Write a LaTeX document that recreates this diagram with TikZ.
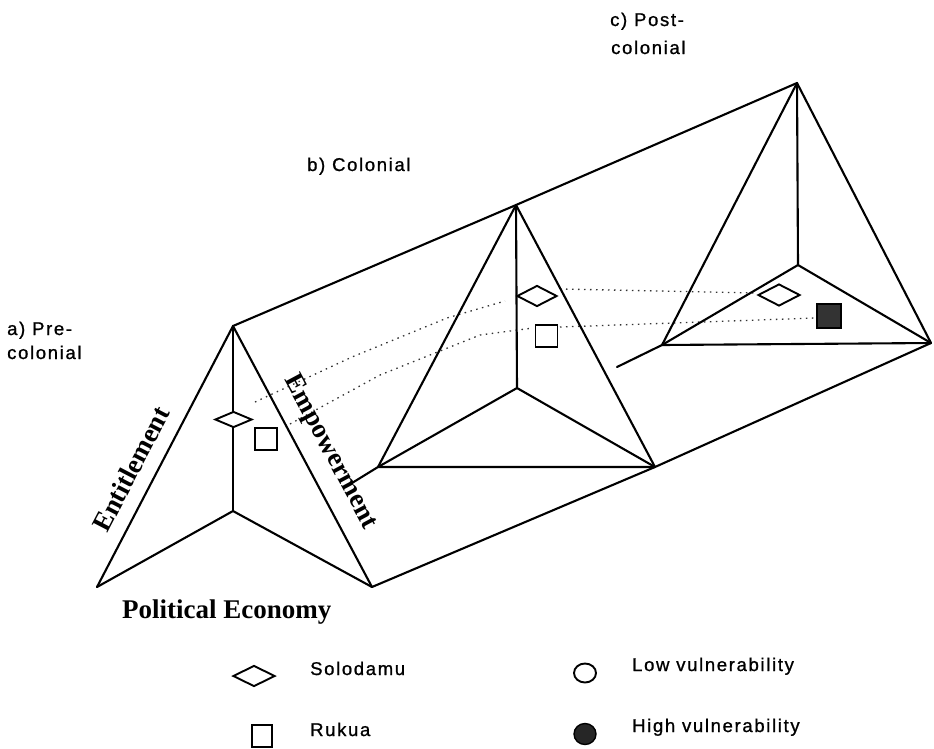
\documentclass[tikz,border=0pt]{standalone}
\usepackage{fontspec}
\setmainfont{Liberation Serif}
\newfontfamily\labfont{Liberation Sans}[LetterSpace=9,FakeBold=1]
\usetikzlibrary{shapes.geometric}
\begin{document}
\begin{tikzpicture}[x=1pt,y=-1pt,
  edge/.style={line width=2.1pt, line join=round, line cap=round},
  dots/.style={line width=1.3pt, dash pattern=on 1.5pt off 4.5pt, black!80},
  lab/.style={font=\labfont\fontsize{18.5}{22}\selectfont, inner sep=0pt, anchor=base west},
  ser/.style={font=\bfseries\fontsize{27}{30}\selectfont, inner sep=0pt},
  dmd/.style={draw, line width=1.9pt, fill=white, shape=diamond, inner sep=0pt},
  sq/.style={draw, line width=1.9pt, fill=white, inner sep=0pt, minimum size=22pt},
]
\useasboundingbox (0,0) rectangle (934,748);

% vertices
\coordinate (PA) at (233,326); \coordinate (LA) at (97,587);
\coordinate (RA) at (372,587); \coordinate (MA) at (233,511);
\coordinate (PB) at (516,205); \coordinate (LB) at (378,467);
\coordinate (RB) at (655,467); \coordinate (MB) at (517,388);
\coordinate (PC) at (797,83);  \coordinate (LC) at (662,345);
\coordinate (RC) at (931,343); \coordinate (MC) at (798,265);
\coordinate (SB) at (352,483); \coordinate (SC) at (617,367);

% dotted links
\coordinate (u1) at (255,402); \coordinate (u2) at (352,357);
\coordinate (u3) at (447,318); \coordinate (u4) at (505,301);
\coordinate (w1) at (290,424); \coordinate (w2) at (380,375);
\coordinate (w3) at (480,335); \coordinate (w4) at (533,328);
\coordinate (u5) at (560,289); \coordinate (u6) at (757,293);
\coordinate (w5) at (560,327); \coordinate (w6) at (815,318);
\draw[dots] (u1) -- (u2) -- (u3) -- (u4);
\draw[dots] (w1) -- (w2) -- (w3) -- (w4);
\draw[dots] (u5) -- (u6);
\draw[dots] (w5) -- (w6);

% long edges
\draw[edge] (PA) -- (PB) -- (PC);
\draw[edge] (RA) -- (RB) -- (RC);
\draw[edge] (LB) -- (SB);
\draw[edge] (LC) -- (SC);

% pyramid a
\draw[edge] (LA) -- (PA) -- (RA);
\draw[edge] (PA) -- (MA);
\draw[edge] (LA) -- (MA) -- (RA);
% pyramid b
\draw[edge] (LB) -- (PB) -- (RB) -- cycle;
\draw[edge] (PB) -- (MB);
\draw[edge] (LB) -- (MB) -- (RB);
% pyramid c
\draw[edge] (LC) -- (PC) -- (RC) -- cycle;
\draw[edge] (PC) -- (MC);
\draw[edge] (LC) -- (MC) -- (RC);

% markers
\node[dmd, minimum width=37pt, minimum height=16pt] (dA) at (233.5,419.5) {};
\node[sq] (sA) at (266,439) {};
\node[dmd, minimum width=40pt, minimum height=21pt] (dB) at (537,296) {};
\node[sq] (sB) at (546.5,336) {};
\node[dmd, minimum width=42pt, minimum height=22pt] (dC) at (779,295) {};
\node[sq, fill=black!80, minimum size=24pt] (sC) at (829,316) {};

% edge labels
\node[ser, rotate=62.5] (ent) at (131,469) {Entitlement};
\node[ser, rotate=-61.8] (emp) at (330,452) {Empowerment};
\node[ser, anchor=base west] (pe) at (122,618) {Political Economy};

% period labels
\node[lab] (a1) at (7,335) {a) Pre-};
\node[lab] (a2) at (7,359) {colonial};
\node[lab] (b1) at (307,171) {b) Colonial};
\node[lab] (c1) at (610,26) {c) Post-};
\node[lab] (c2) at (611,54) {colonial};

% legend
\node[dmd, minimum width=42pt, minimum height=21pt] (ld) at (254,676) {};
\node[sq, minimum width=20pt, minimum height=22pt] (ls) at (262,736) {};
\node[draw, line width=1.9pt, ellipse, minimum width=22pt, minimum height=19pt, inner sep=0pt] (lo) at (585,673) {};
\node[draw, line width=1.4pt, ellipse, fill=black!85, minimum width=22pt, minimum height=21pt, inner sep=0pt] (lf) at (585,734) {};
\node[lab] (t1) at (310,675) {Solodamu};
\node[lab] (t2) at (310,736) {Rukua};
\node[lab] (t3) at (632,671) {Low vulnerability};
\node[lab] (t4) at (632,732) {High vulnerability};
\end{tikzpicture}
\end{document}
